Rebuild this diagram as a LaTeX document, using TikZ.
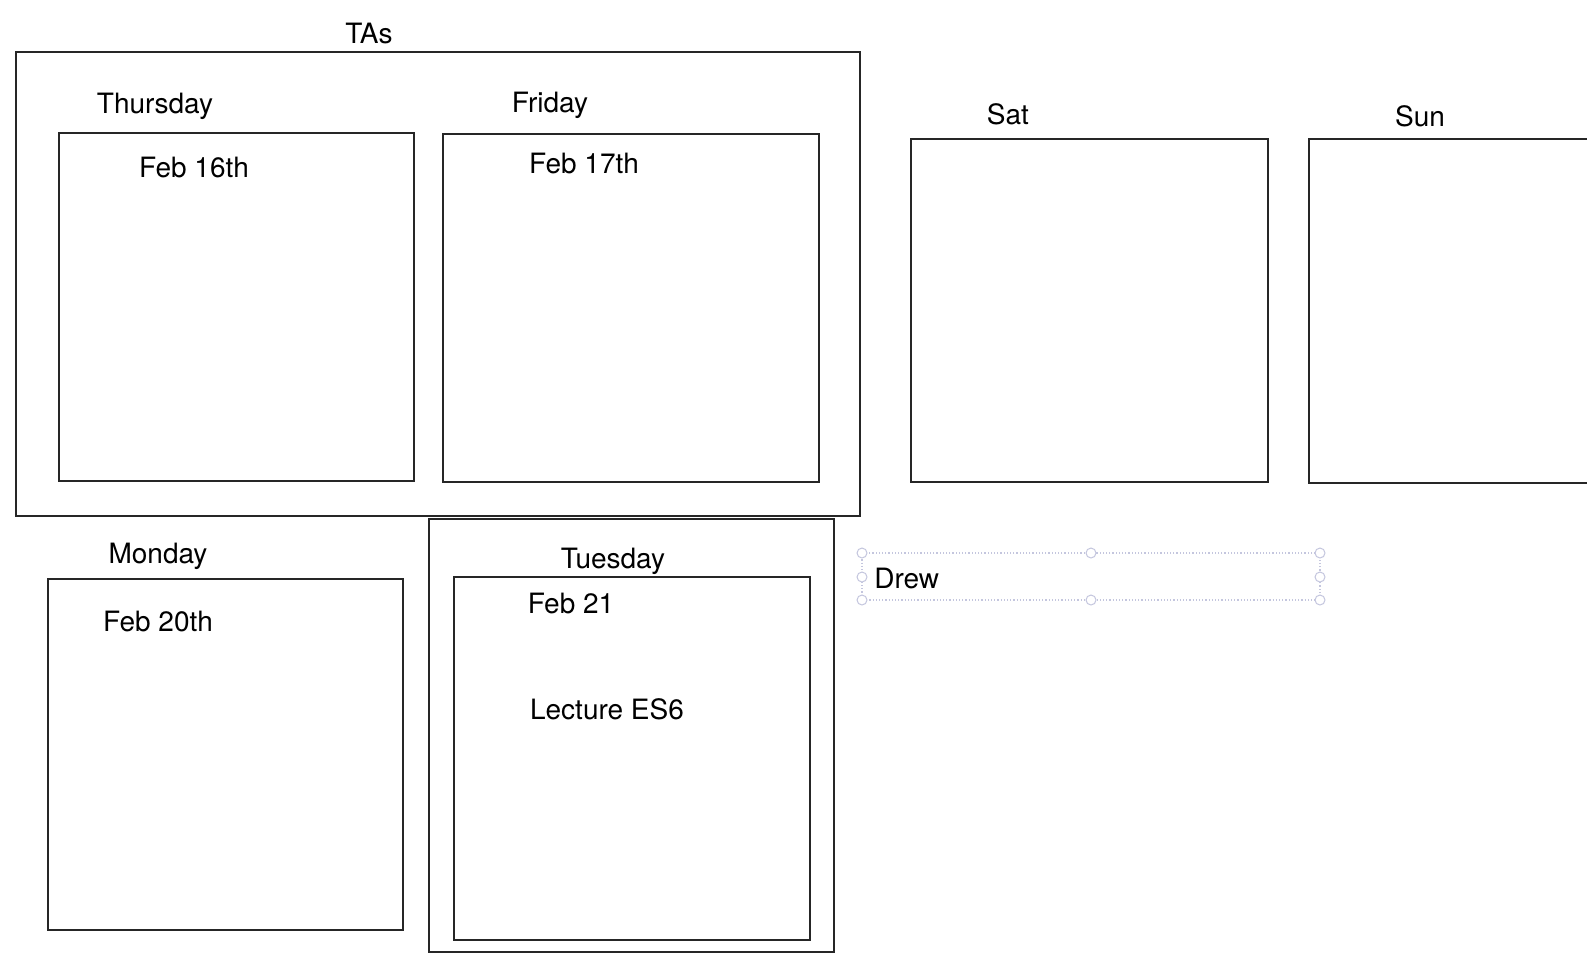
\documentclass[tikz,border=0pt]{standalone}
\usepackage{fontspec}
\setmainfont{TeX Gyre Heros}
\definecolor{selgray}{RGB}{196,198,222}
\tikzset{
	daybox/.style={draw=black!85,line width=1.1pt},
	lbl/.style={font=\fontsize{14}{16}\selectfont,inner sep=0pt},
	handle/.style={draw=selgray,fill=white,line width=0.5pt,circle,minimum size=5pt,inner sep=0pt}
}
\begin{document}
\begin{tikzpicture}[x=0.5pt,y=-0.5pt]
		\useasboundingbox (0,0) rectangle (1587,965);
		% TAs group
		\draw[daybox] (16,52) rectangle (860,516);
		\node[lbl] (tas) at (369,33) {TAs};
		\draw[daybox] (59,133) rectangle (414,481);
		\node[lbl] (thu) at (155,106) {Thursday};
		\node[lbl] (feb16) at (194,167) {Feb 16th};
		\draw[daybox] (443,134) rectangle (819,482);
		\node[lbl] (fri) at (550,105) {Friday};
		\node[lbl] (feb17) at (584,163) {Feb 17th};
		% weekend
		\draw[daybox] (911,139) rectangle (1268,482);
		\node[lbl] (sat) at (1008,114) {Sat};
		\draw[daybox] (1595,139) -- (1309,139) -- (1309,483) -- (1595,483);
		\node[lbl] (sun) at (1420,116) {Sun};
		% next week
		\draw[daybox] (48,579) rectangle (403,930);
		\node[lbl] (mon) at (158,556) {Monday};
		\node[lbl] (feb20) at (158,621) {Feb 20th};
		\draw[daybox] (429,519) rectangle (834,952);
		\draw[daybox] (454,577) rectangle (810,940);
		\node[lbl] (tue) at (613,561) {Tuesday};
		\node[lbl] (feb21) at (571,603) {Feb 21};
		\node[lbl] (es6) at (607,709) {Lecture ES6};
		% selected text box
		\draw[selgray,densely dotted,line width=0.6pt] (862,553) rectangle (1320,600);
		\node[lbl,anchor=west] (drew) at (874,578) {Drew};
		\foreach \x in {862,1091,1320}
			\foreach \y in {553,600}
				\node[handle] at (\x,\y) {};
		\node[handle] at (862,577) {};
		\node[handle] at (1320,577) {};
	\end{tikzpicture}
\end{document}
